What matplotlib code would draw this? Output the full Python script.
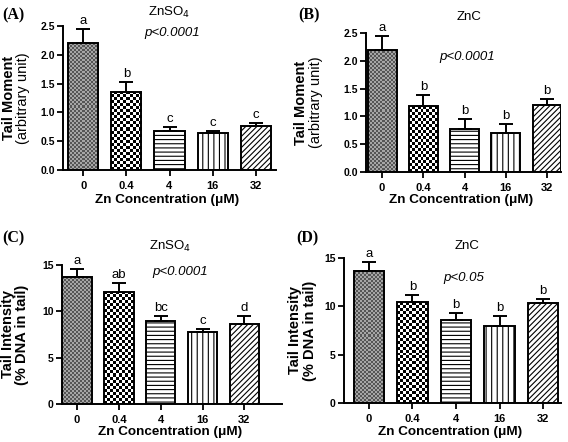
import numpy as np
import matplotlib
matplotlib.use('Agg')
import matplotlib.pyplot as plt
from matplotlib.colors import ListedColormap

plt.rcParams['font.family'] = ['Liberation Sans', 'DejaVu Sans']
plt.rcParams['hatch.linewidth'] = 0.8

conc = ['0', '0.4', '4', '16', '32']

# Tail moment (arbitrary unit), mean and SEM
tm_znso4 = [2.20, 1.36, 0.68, 0.65, 0.76]
tm_znso4_sem = [0.25, 0.17, 0.06, 0.02, 0.06]
tm_znc = [2.20, 1.18, 0.77, 0.71, 1.20]
tm_znc_sem = [0.25, 0.20, 0.19, 0.16, 0.12]

# Tail intensity (% DNA in tail), mean and SEM
ti_znso4 = [13.7, 12.1, 9.0, 7.8, 8.6]
ti_znso4_sem = [0.9, 1.0, 0.45, 0.25, 0.9]
ti_znc = [13.7, 10.4, 8.6, 8.0, 10.3]
ti_znc_sem = [0.9, 0.8, 0.7, 1.0, 0.5]

letters_a = ['a', 'b', 'c', 'c', 'c']
letters_b = ['a', 'b', 'b', 'b', 'b']
letters_c = ['a', 'ab', 'bc', 'c', 'd']
letters_d = ['a', 'b', 'b', 'b', 'b']

W, H = 568, 442
fig = plt.figure(figsize=(W / 100, H / 100), dpi=100)


def fx(x):
    return x / W


def fy(y):
    return 1 - y / H


def fill_checker(ax, bar, cell, c1, c2):
    x0, y0 = bar.get_x(), bar.get_y()
    w, h = bar.get_width(), bar.get_height()
    (p0x, p0y), (p1x, p1y) = ax.transData.transform([(x0, y0), (x0 + w, y0 + h)])
    nx = max(1, int(round((p1x - p0x) / cell)))
    ny = max(1, int(round((p1y - p0y) / cell)))
    img = np.indices((ny, nx)).sum(axis=0) % 2
    im = ax.imshow(img, extent=(x0, x0 + w, y0, y0 + h), origin='lower',
                   cmap=ListedColormap([c1, c2]), interpolation='nearest',
                   aspect='auto', zorder=1.5)
    im.set_clip_path(bar)


def panel(box, xlim, ymax, ystep, fmt, vals, sem, letters, ylab, ylab_x,
          ylab2_bold, tag, tag_xy, title, title_xy, ptxt, p_xy, xlab_y):
    l, r, b, t = box
    ax = fig.add_axes([fx(l), fy(b), fx(r) - fx(l), fy(t) - fy(b)])
    x = np.arange(len(vals))
    ax.set_xlim(*xlim)
    ax.set_ylim(0, ymax)
    bars = ax.bar(x, vals, width=0.7, facecolor='white', edgecolor='black',
                  linewidth=1.4, zorder=2)
    # patterns like the original
    fill_checker(ax, bars[0], 2.0, '#555555', '#a5a5a5')
    fill_checker(ax, bars[1], 3.0, 'black', 'white')
    bars[0].set_facecolor('none')
    bars[1].set_facecolor('none')
    bars[2].set_hatch('----')
    bars[3].set_hatch('|||')
    bars[4].set_hatch('//////')
    ax.set_xlim(*xlim)
    ax.set_ylim(0, ymax)
    ax.errorbar(x, vals, yerr=[np.zeros(len(vals)), sem], fmt='none',
                ecolor='black', elinewidth=1.4, capsize=5, capthick=1.4,
                zorder=3)
    for xi, v, s, lt in zip(x, vals, sem, letters):
        ax.annotate(lt, (xi, v + s), xytext=(0, 1.5), textcoords='offset points',
                    ha='center', va='bottom', fontsize=9.5)
    ax.set_xticks(x)
    ax.set_xticklabels(conc, fontweight='bold', fontsize=8)
    ticks = np.arange(0, ymax + ystep / 2, ystep)
    ax.set_yticks(ticks)
    ax.set_yticklabels([fmt % v for v in ticks], fontweight='bold', fontsize=7.5)
    for s in ['top', 'right']:
        ax.spines[s].set_visible(False)
    for s in ['left', 'bottom']:
        ax.spines[s].set_linewidth(1.4)
    ax.tick_params(direction='out', length=4, width=1.3, pad=2)
    ax.tick_params(axis='x', pad=4)

    yc = (fy(b) + fy(t)) / 2
    fig.text(fx(ylab_x[0]), yc, ylab[0], rotation=90, ha='center',
             va='center', fontweight='bold', fontsize=10.5)
    fig.text(fx(ylab_x[1]), yc, ylab[1], rotation=90, ha='center',
             va='center', fontweight='bold' if ylab2_bold else 'normal',
             fontsize=10.5)
    fig.text(fx((l + r) / 2 - 2), fy(xlab_y), 'Zn Concentration (\u03bcM)',
             ha='center', va='center', fontweight='bold', fontsize=9.7)
    fig.text(fx(tag_xy[0]), fy(tag_xy[1]), tag, ha='left', va='center',
             fontweight='bold', fontsize=11.5, family='Liberation Serif')
    fig.text(fx(title_xy[0]), fy(title_xy[1]), title, ha='center', va='center',
             fontsize=9.5)
    fig.text(fx(p_xy[0]), fy(p_xy[1]), ptxt, ha='center', va='center',
             fontsize=9.5, style='italic')
    return ax


panel((63, 276, 170, 26), (-0.47, 4.47), 2.5, 0.5, '%.1f',
      tm_znso4, tm_znso4_sem, letters_a, ('Tail Moment', '(arbitrary unit)'),
      (9, 23), False, '(A)', (2, 15), 'ZnSO$_4$', (169, 12), 'p<0.0001',
      (172, 33), 200)

panel((366, 561, 172, 33), (-0.39, 4.34), 2.5, 0.5, '%.1f',
      tm_znc, tm_znc_sem, letters_b, ('Tail Moment', '(arbitrary unit)'),
      (301, 316), False, '(B)', (298, 15), 'ZnC', (469, 17), 'p<0.0001',
      (467, 57), 200)

panel((62, 282, 404, 265), (-0.36, 4.9), 15, 5, '%d',
      ti_znso4, ti_znso4_sem, letters_c, ('Tail Intensity', '(% DNA in tail)'),
      (8, 22), True, '(C)', (2, 238), 'ZnSO$_4$', (170, 246), 'p<0.0001',
      (180, 272), 432)

panel((344, 561, 403, 258), (-0.57, 4.41), 15, 5, '%d',
      ti_znc, ti_znc_sem, letters_d, ('Tail Intensity', '(% DNA in tail)'),
      (295, 310), True, '(D)', (296, 238), 'ZnC', (467, 246), 'p<0.05',
      (464, 278), 432)

fig.savefig('out.png', dpi=100)
